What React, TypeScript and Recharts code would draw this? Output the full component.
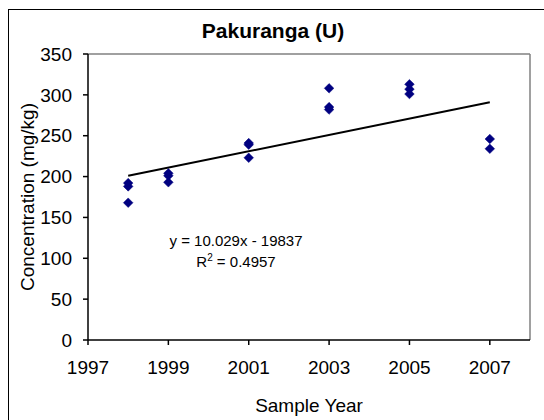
import React from 'react';
import {
  ScatterChart,
  Scatter,
  XAxis,
  YAxis,
  ReferenceLine,
  Customized,
} from 'recharts';

const years1998 = [192, 188, 168];
const years1999 = [204, 201, 193];
const years2001 = [241, 239, 223];
const years2003 = [308, 285, 282];
const years2005 = [313, 307, 301];
const years2007 = [246, 234];

const sampleYears = [1998, 1999, 2001, 2003, 2005, 2007];
const concentrations = [years1998, years1999, years2001, years2003, years2005, years2007];

const xTicks = [1997, 1999, 2001, 2003, 2005, 2007];
const yTicks = [0, 50, 100, 150, 200, 250, 300, 350];

const trendStart = { x: 1998, y: 201 };
const trendEnd = { x: 2007, y: 291 };

const titleText = 'Pakuranga (U)';
const equationText = 'y = 10.029x - 19837';
const r2Value = '0.4957';

const points = sampleYears.flatMap((yr, i) =>
  concentrations[i].map((v) => ({ x: yr, y: v }))
);

const FONT = '"Liberation Sans", Arial, Helvetica, sans-serif';

const Diamond = (props: any) => {
  const { cx, cy } = props;
  if (cx == null || cy == null) return null;
  const r = 4.8;
  return (
    <polygon
      points={`${cx},${cy - r} ${cx + r},${cy} ${cx},${cy + r} ${cx - r},${cy}`}
      fill="#000080"
      stroke="#000080"
      strokeWidth={0.5}
    />
  );
};

export default function App() {
  return (
    <div style={{ position: 'absolute', left: 0, top: 0, width: 544, height: 420, overflow: 'hidden', background: '#fff' }}>
      <div
        style={{
          position: 'absolute',
          left: 8,
          top: 9,
          width: 536,
          height: 411,
          boxSizing: 'border-box',
          borderLeft: '1.5px solid #000',
          borderTop: '1.5px solid #000',
        }}
      />
      <div style={{ position: 'absolute', left: 0, top: 0 }}>
        <ScatterChart
          width={544}
          height={420}
          margin={{ top: 54, right: 14, bottom: 0, left: 28 }}
          style={{ fontFamily: FONT }}
        >
          <XAxis
            type="number"
            dataKey="x"
            domain={[1997, 2008]}
            ticks={xTicks}
            allowDataOverflow
            height={80}
            tickSize={5}
            tickMargin={16}
            stroke="#000"
            strokeWidth={1.5}
            tick={{ fill: '#000', fontSize: 19, fontFamily: FONT }}
            label={{
              value: 'Sample Year',
              position: 'insideBottom',
              offset: 8,
              style: { fill: '#000', fontSize: 19, fontFamily: FONT },
            }}
          />
          <YAxis
            type="number"
            dataKey="y"
            domain={[0, 350]}
            ticks={yTicks}
            allowDataOverflow
            width={60}
            tickSize={5}
            tickMargin={11}
            stroke="#000"
            strokeWidth={1.5}
            tick={{ fill: '#000', fontSize: 19, fontFamily: FONT }}
            label={{
              value: 'Concentration (mg/kg)',
              angle: -90,
              position: 'insideLeft',
              offset: -1,
              style: { fill: '#000', fontSize: 19, fontFamily: FONT, textAnchor: 'middle' },
            }}
          />
          <ReferenceLine y={350} stroke="#808080" strokeWidth={1.5} />
          <ReferenceLine x={2008} stroke="#808080" strokeWidth={1.5} />
          <ReferenceLine
            segment={[trendStart, trendEnd]}
            stroke="#000"
            strokeWidth={2}
          />
          <Scatter data={points} shape={<Diamond />} isAnimationActive={false} />
          <Customized
            component={() => (
              <g style={{ fontFamily: FONT }}>
                <text x={273} y={38} textAnchor="middle" fontSize={21} fontWeight="bold" fill="#000" fontFamily={FONT}>
                  {titleText}
                </text>
                <text x={236} y={246} textAnchor="middle" fontSize={15} fill="#000" fontFamily={FONT}>
                  {equationText}
                </text>
                <text x={236} y={267} textAnchor="middle" fontSize={15} fill="#000" fontFamily={FONT}>
                  R<tspan dy={-6} fontSize={10}>2</tspan>
                  <tspan dy={6}>{` = ${r2Value}`}</tspan>
                </text>
              </g>
            )}
          />
        </ScatterChart>
      </div>
    </div>
  );
}
